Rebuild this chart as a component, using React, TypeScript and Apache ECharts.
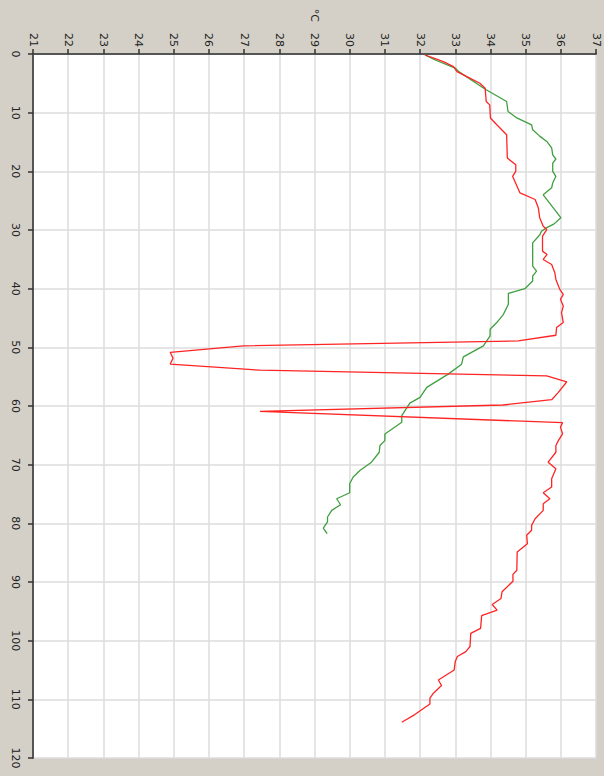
import React, { useEffect, useRef } from "react";
import * as echarts from "echarts";

// [temperature °C, depth]
const redSeries: number[][] = [
  [32.14, 0.17], [32.43, 0.8], [32.66, 1.3], [32.95, 2.15], [33.05, 3.0], [33.33, 3.85],
  [33.7, 4.98], [33.85, 5.84], [33.88, 8.1], [33.98, 8.67], [34.0, 10.9], [34.18, 12.07],
  [34.46, 13.77], [34.48, 17.73], [34.72, 18.87], [34.72, 20.0], [34.63, 20.85], [34.84, 23.68],
  [35.27, 24.8], [35.36, 26.2], [35.4, 27.9], [35.5, 29.35], [35.6, 29.92], [35.48, 31.05],
  [35.48, 33.6], [35.61, 34.17], [35.5, 35.02], [35.74, 35.87], [35.83, 37.29], [35.86, 38.42],
  [35.97, 40.12], [36.07, 40.97], [35.99, 41.82], [36.07, 42.95], [36.02, 44.08], [36.07, 45.78],
  [35.88, 46.63], [35.86, 47.94], [34.79, 48.9], [26.98, 49.75], [24.9, 50.85], [24.98, 51.85],
  [24.9, 52.85], [27.45, 53.9], [35.6, 54.85], [36.17, 55.87], [35.93, 57.68], [35.74, 58.93],
  [34.36, 59.83], [27.45, 60.9], [36.05, 62.85], [35.99, 63.6], [36.05, 64.76], [35.93, 65.9],
  [35.86, 66.74], [35.86, 67.88], [35.64, 69.58], [35.86, 70.71], [35.74, 72.41], [35.74, 73.82],
  [35.5, 74.79], [35.69, 75.81], [35.5, 76.66], [35.5, 77.79], [35.27, 79.21], [35.17, 80.34],
  [35.17, 81.19], [35.03, 82.04], [35.05, 83.46], [34.76, 84.87], [34.75, 88.0], [34.64, 88.7],
  [34.64, 89.86], [34.33, 91.67], [34.3, 92.8], [34.05, 93.83], [34.19, 94.79], [33.75, 95.75],
  [33.72, 97.9], [33.44, 98.76], [33.42, 101.0], [33.3, 101.87], [33.06, 102.7], [33.0, 103.57],
  [32.97, 104.99], [32.52, 106.7], [32.61, 107.65], [32.38, 108.96], [32.28, 109.8], [32.28, 110.8],
  [31.85, 112.6], [31.48, 113.9],
];

const greenSeries: number[][] = [
  [32.14, 0.17], [32.43, 1.02], [33.0, 2.4], [33.1, 3.0], [33.8, 5.8], [33.88, 6.1],
  [34.46, 8.1], [34.5, 9.8], [34.75, 10.9], [35.17, 12.07], [35.2, 12.9], [35.4, 14.0],
  [35.6, 14.9], [35.74, 16.0], [35.77, 17.2], [35.86, 17.9], [35.77, 18.6], [35.77, 20.0],
  [35.86, 20.85], [35.77, 22.0], [35.74, 22.8], [35.5, 24.0], [36.0, 27.9], [35.8, 29.0],
  [35.6, 29.6], [35.45, 30.2], [35.41, 30.77], [35.2, 32.19], [35.2, 36.15], [35.31, 37.0],
  [35.2, 37.85], [35.2, 38.7], [34.98, 40.0], [34.51, 40.8], [34.51, 42.67], [34.37, 44.37],
  [34.18, 45.78], [33.99, 46.92], [33.99, 48.05], [33.8, 49.75], [33.23, 51.62], [33.18, 52.87],
  [32.8, 54.57], [32.19, 56.83], [32.0, 58.53], [31.71, 59.5], [31.48, 61.65], [31.48, 62.78],
  [31.0, 64.76], [31.0, 65.9], [30.86, 66.74], [30.84, 67.88], [30.62, 69.58], [30.29, 71.0],
  [30.1, 72.1], [30.0, 73.26], [30.0, 74.79], [29.63, 75.81], [29.74, 76.83], [29.49, 77.79],
  [29.37, 78.92], [29.37, 79.77], [29.25, 80.8], [29.36, 81.76],
];

const tempMin = 21;
const tempMax = 37;
const depthMin = 0;
const depthMax = 120;
const tempUnit = "°C";

export default function App() {
  const ref = useRef<HTMLDivElement>(null);
  useEffect(() => {
    if (!ref.current) return;
    const chart = echarts.init(ref.current, null, { renderer: "svg" });
    const font = "DejaVu Sans";
    chart.setOption({
      animation: false,
      backgroundColor: "#d4d0c8",
      grid: {
        left: 33,
        top: 54,
        right: 8,
        bottom: 18,
        show: true,
        backgroundColor: "#ffffff",
        borderWidth: 0,
        containLabel: false,
        outerBoundsMode: "none",
      },
      xAxis: {
        type: "value",
        position: "top",
        min: tempMin,
        max: tempMax,
        interval: 1,
        name: tempUnit,
        nameLocation: "middle",
        nameGap: 32,
        nameRotate: -90,
        nameTextStyle: { fontFamily: font, fontSize: 11, color: "#222" },
        axisLine: { show: true, lineStyle: { color: "#555", width: 2 } },
        axisTick: { show: true, length: 5, lineStyle: { color: "#333", width: 1.5 } },
        axisLabel: { rotate: -90, margin: 7, fontFamily: font, fontSize: 11, color: "#222" },
        splitLine: { show: true, lineStyle: { color: "#dcdcdc", width: 1.5 } },
      },
      yAxis: {
        type: "value",
        inverse: true,
        min: depthMin,
        max: depthMax,
        interval: 10,
        axisLine: { show: true, lineStyle: { color: "#555", width: 2 } },
        axisTick: { show: true, length: 5, lineStyle: { color: "#333", width: 1.5 } },
        axisLabel: { rotate: -90, margin: 12, fontFamily: font, fontSize: 11, color: "#222" },
        splitLine: { show: true, lineStyle: { color: "#dcdcdc", width: 1.5 } },
      },
      series: [
        {
          type: "line",
          data: greenSeries,
          showSymbol: false,
          symbol: "none",
          lineStyle: { color: "#3f9f3f", width: 1.3 },
          itemStyle: { color: "#3f9f3f" },
        },
        {
          type: "line",
          data: redSeries,
          showSymbol: false,
          symbol: "none",
          lineStyle: { color: "#ff2424", width: 1.3 },
          itemStyle: { color: "#ff2424" },
        },
      ],
    });
    return () => chart.dispose();
  }, []);
  return (
    <div
      ref={ref}
      style={{ position: "fixed", left: 0, top: 0, width: 604, height: 776 }}
    />
  );
}
